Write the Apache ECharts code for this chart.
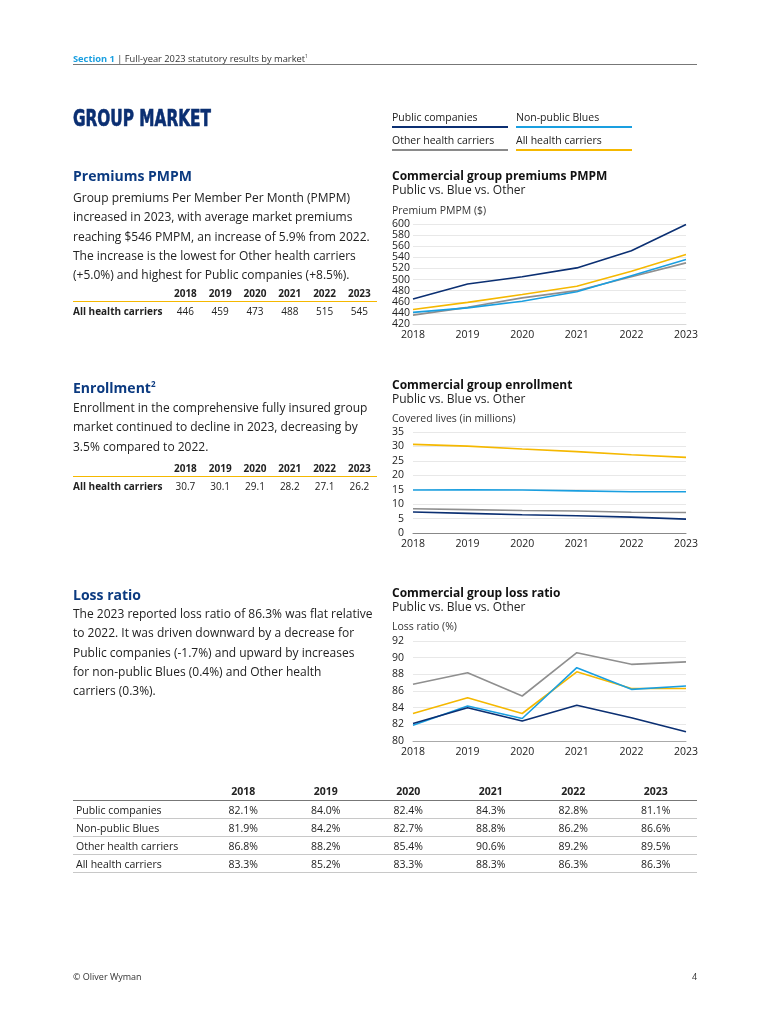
<!DOCTYPE html>
<html>
<head>
<meta charset="utf-8">
<script src="https://cdn.jsdelivr.net/npm/echarts@6/dist/echarts.min.js"></script>
<style>
  html, body { margin:0; padding:0; background:#fff; }
  body { width:770px; height:1024px; position:relative; font-family:"Open Sans", "Noto Sans", sans-serif; color:#222; overflow:hidden; }
  .abs { position:absolute; white-space:nowrap; }
  #chart { position:absolute; left:0; top:0; width:770px; height:1024px; }
  .hdr { font-size:9.3px; line-height:10px; color:#333; }
  .hdr b { color:#1a9fe0; font-weight:700; }
  .big { font-family:"DejaVu Sans Condensed","Liberation Sans Narrow",sans-serif; font-weight:700; font-size:23px; line-height:24px; color:#0b2f72; transform:scaleX(0.74); transform-origin:0 50%; -webkit-text-stroke:0.6px #0b2f72; }
  .h2 { font-size:14px; font-weight:700; color:#0b3a80; line-height:18px; }
  .h2 sup { font-size:8px; vertical-align:super; line-height:0; }
  .body { font-size:12px; line-height:19.3px; color:#222; }
  .lg { font-size:10.5px; line-height:14px; color:#222; width:116px; padding-bottom:2px; }
  table { border-collapse:collapse; }
  .mini td { font-size:10px; padding:0; height:17px; text-align:center; width:34.8px; }
  .mini td.l { text-align:left; width:95px; font-weight:700; }
  .mini tr.h td { font-weight:700; border-bottom:1.5px solid #f5b800; }
  .big-t { table-layout:fixed; }
  .big-t td { font-size:10.5px; padding:0; height:17px; text-align:center; border-bottom:1px solid #c8c8c8; color:#222; }
  .big-t td.l { text-align:left; padding-left:3px; }
  .big-t tr.h td { font-weight:700; border-bottom:1px solid #777; height:19px; }
  .foot { font-size:9px; color:#333; line-height:10px; }
</style>
</head>
<body>
<div id="chart"></div>

<div class="abs hdr" style="left:73px; top:51px;"><b>Section 1</b> | Full-year 2023 statutory results by market<sup style="font-size:5px">1</sup></div>
<div class="abs" style="left:73px; top:64px; width:624px; height:0; border-top:1.5px solid #777;"></div>
<div class="abs big" style="left:73px; top:106px;">GROUP MARKET</div>

<!-- legend -->
<div class="abs lg" style="left:392px; top:110px; border-bottom:2px solid #0b2f72;">Public companies</div>
<div class="abs lg" style="left:516px; top:110px; border-bottom:2px solid #1a9fe0;">Non-public Blues</div>
<div class="abs lg" style="left:392px; top:133px; border-bottom:2px solid #8a8a8a;">Other health carriers</div>
<div class="abs lg" style="left:516px; top:133px; border-bottom:2px solid #f5b800;">All health carriers</div>

<!-- Premiums -->
<div class="abs h2" style="left:73px; top:167px;">Premiums PMPM</div>
<div class="abs body" style="left:73px; top:188px;">Group premiums Per Member Per Month (PMPM)<br>increased in 2023, with average market premiums<br>reaching $546 PMPM, an increase of 5.9% from 2022.<br>The increase is the lowest for Other health carriers<br>(+5.0%) and highest for Public companies (+8.5%).</div>
<table class="abs mini" id="t1" style="left:73px; top:284px;"></table>

<!-- Enrollment -->
<div class="abs h2" style="left:73px; top:379px;">Enrollment<sup>2</sup></div>
<div class="abs body" style="left:73px; top:398px;">Enrollment in the comprehensive fully insured group<br>market continued to decline in 2023, decreasing by<br>3.5% compared to 2022.</div>
<table class="abs mini" id="t2" style="left:73px; top:459px;"></table>

<!-- Loss ratio -->
<div class="abs h2" style="left:73px; top:586px;">Loss ratio</div>
<div class="abs body" style="left:73px; top:604px;">The 2023 reported loss ratio of 86.3% was flat relative<br>to 2022. It was driven downward by a decrease for<br>Public companies (-1.7%) and upward by increases<br>for non-public Blues (0.4%) and Other health<br>carriers (0.3%).</div>

<table class="abs big-t" id="t3" style="left:73px; top:781px; width:624px;"></table>

<div class="abs foot" style="left:73px; top:972px;">© Oliver Wyman</div>
<div class="abs foot" style="left:692px; top:972px;">4</div>

<script>
// ---------- data ----------
var years = ['2018','2019','2020','2021','2022','2023'];
var seriesNames = ['Public companies','Non-public Blues','Other health carriers','All health carriers'];

var premPublic = [465, 492, 505, 521, 552, 599];
var premBlues  = [441, 449, 461, 478, 507, 536];
var premOther  = [436, 450, 467, 480, 505, 530];
var premAll    = [446, 459, 473, 488, 515, 545];

var enrPublic = [7.3, 6.8, 6.3, 6.0, 5.5, 4.8];
var enrBlues  = [14.9, 15.0, 14.9, 14.6, 14.3, 14.3];
var enrOther  = [8.4, 8.1, 7.8, 7.6, 7.2, 7.1];
var enrAll    = [30.7, 30.1, 29.1, 28.2, 27.1, 26.2];

var lrPublic = [82.1, 84.0, 82.4, 84.3, 82.8, 81.1];
var lrBlues  = [81.9, 84.2, 82.7, 88.8, 86.2, 86.6];
var lrOther  = [86.8, 88.2, 85.4, 90.6, 89.2, 89.5];
var lrAll    = [83.3, 85.2, 83.3, 88.3, 86.3, 86.3];

var colors = ['#0b2f72', '#1a9fe0', '#8f8f8f', '#f5b800'];

// ---------- tables ----------
function miniTable(id, vals) {
  var h = '<tr class="h"><td class="l"></td>' + years.map(function(y){return '<td>'+y+'</td>';}).join('') + '</tr>';
  h += '<tr><td class="l">All health carriers</td>' + vals.map(function(v){return '<td>'+v+'</td>';}).join('') + '</tr>';
  document.getElementById(id).innerHTML = h;
}
miniTable('t1', premAll);
miniTable('t2', enrAll.map(function(v){return v.toFixed(1);}));

(function(){
  var rows = [lrPublic, lrBlues, lrOther, lrAll];
  var h = '<colgroup><col style="width:129px">' + years.map(function(){return '<col style="width:82.5px">';}).join('') + '</colgroup>';
  h += '<tr class="h"><td class="l"></td>' + years.map(function(y){return '<td>'+y+'</td>';}).join('') + '</tr>';
  rows.forEach(function(r, i){
    h += '<tr><td class="l">' + seriesNames[i] + '</td>' + r.map(function(v){return '<td>'+v.toFixed(1)+'%</td>';}).join('') + '</tr>';
  });
  document.getElementById('t3').innerHTML = h;
})();

// ---------- chart ----------
var chart = echarts.init(document.getElementById('chart'), null, {renderer:'canvas'});
var F = '"Open Sans", "Noto Sans", sans-serif';

function t(text, top, size, weight, color) {
  return { text: text, left: 392, top: top, padding: 0,
    textStyle: { fontFamily: F, fontSize: size, fontWeight: weight, color: color, lineHeight: size + 4 } };
}

var grids = [
  { left: 413, top: 224, width: 273, height: 100 },
  { left: 413, top: 432, width: 273, height: 101 },
  { left: 413, top: 641, width: 273, height: 100 }
];

function xAx(i, lineColor) {
  return { type:'category', gridIndex:i, data: years, boundaryGap:false,
    axisTick:{show:false},
    axisLine:{show:true, lineStyle:{color:lineColor, width:1}},
    axisLabel:{fontFamily:F, fontSize:10.5, color:'#222', margin:6, interval:0,
      align:'center'} };
}
function yAx(i, min, max, step, margin) {
  return { type:'value', gridIndex:i, min:min, max:max, interval:step,
    axisLine:{show:false}, axisTick:{show:false},
    splitLine:{lineStyle:{color:'#e8e8e8', width:1}},
    axisLabel:{fontFamily:F, fontSize:10.5, color:'#222', margin:margin} };
}
function ser(name, i, data, c) {
  return { type:'line', name:name, xAxisIndex:i, yAxisIndex:i, data:data,
    symbol:'none', smooth:false, lineStyle:{color:c, width:1.6}, itemStyle:{color:c}, z: 3 };
}

var option = {
  animation:false,
  title: [
    t('Commercial group premiums PMPM', 169, 12, 700, '#111'),
    t('Public vs. Blue vs. Other', 183, 12, 400, '#222'),
    t('Premium PMPM ($)', 204, 10.5, 400, '#333'),
    t('Commercial group enrollment', 378, 12, 700, '#111'),
    t('Public vs. Blue vs. Other', 392, 12, 400, '#222'),
    t('Covered lives (in millions)', 412, 10.5, 400, '#333'),
    t('Commercial group loss ratio', 586, 12, 700, '#111'),
    t('Public vs. Blue vs. Other', 600, 12, 400, '#222'),
    t('Loss ratio (%)', 620, 10.5, 400, '#333')
  ],
  grid: grids,
  xAxis: [ xAx(0, '#d8d8d8'), xAx(1, '#888'), xAx(2, '#aaa') ],
  yAxis: [ yAx(0, 420, 600, 20, 3), yAx(1, 0, 35, 5, 9), yAx(2, 80, 92, 2, 9) ],
  series: [
    ser(seriesNames[2], 0, premOther, colors[2]),
    ser(seriesNames[1], 0, premBlues, colors[1]),
    ser(seriesNames[3], 0, premAll, colors[3]),
    ser(seriesNames[0], 0, premPublic, colors[0]),

    ser(seriesNames[2], 1, enrOther, colors[2]),
    ser(seriesNames[1], 1, enrBlues, colors[1]),
    ser(seriesNames[3], 1, enrAll, colors[3]),
    ser(seriesNames[0], 1, enrPublic, colors[0]),

    ser(seriesNames[2], 2, lrOther, colors[2]),
    ser(seriesNames[3], 2, lrAll, colors[3]),
    ser(seriesNames[1], 2, lrBlues, colors[1]),
    ser(seriesNames[0], 2, lrPublic, colors[0])
  ]
};
chart.setOption(option);
</script>
</body>
</html>
